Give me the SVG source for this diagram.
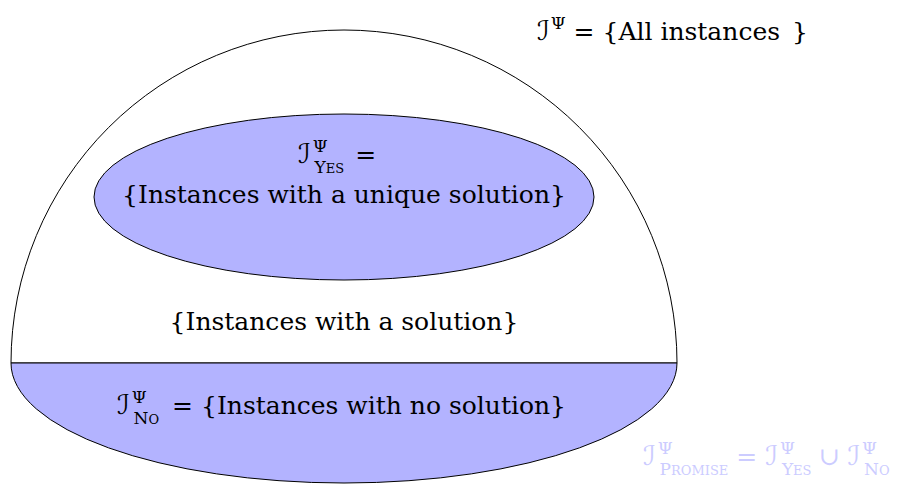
<svg xmlns="http://www.w3.org/2000/svg" width="921" height="484" viewBox="0 0 921 484">
<style>
text{font-family:"DejaVu Serif","Liberation Serif",serif;font-size:25px;fill:#000}
.cal{font-family:"DejaVu Serif","DejaVu Sans",serif;font-style:italic;font-size:27px}
.sup{font-size:17px}
.sub{font-size:17px}
.sc{font-size:13px}
text.promise{fill:#ccccff}
.shape{stroke:#000;stroke-width:1}
</style>
<rect width="921" height="484" fill="#fff"/>
<g id="all-instances">
<path class="shape" d="M11,363 A333,333 0 0 1 677,363 Z" fill="#fff"/>
<text x="537" y="40"><tspan class="cal">ℐ</tspan><tspan class="sup" dx="1" dy="-11">Ψ</tspan><tspan dx="8" dy="11">= {All instances </tspan><tspan dx="4">}</tspan></text>
</g>
<g id="no-region">
<path class="shape" d="M11,363 L677,363 A333,120 0 0 1 11,363 Z" fill="#b3b3ff"/>
<text x="117" y="414"><tspan class="cal">ℐ</tspan><tspan class="sup" dx="2" dy="-11">Ψ</tspan><tspan class="sub" dx="-13" dy="21">N</tspan><tspan class="sc">O</tspan><tspan dx="5" dy="-10"> = {Instances with no solution}</tspan></text>
</g>
<g id="yes-region">
<ellipse class="shape" cx="344" cy="197" rx="250" ry="83" fill="#b3b3ff"/>
<text x="298" y="163"><tspan class="cal">ℐ</tspan><tspan class="sup" dx="2" dy="-11">Ψ</tspan><tspan class="sub" dx="-13" dy="21">Y</tspan><tspan class="sc">ES</tspan><tspan dx="3" dy="-10"> =</tspan></text>
<text x="344" y="203" text-anchor="middle">{Instances with a unique solution}</text>
</g>
<g id="solution-label">
<text x="344" y="330" text-anchor="middle">{Instances with a solution}</text>
</g>
<g id="promise">
<text class="promise" x="643" y="465"><tspan class="cal">ℐ</tspan><tspan class="sup" dx="2" dy="-11">Ψ</tspan><tspan class="sub" dx="-13" dy="21">P</tspan><tspan class="sc">ROMISE</tspan><tspan dx="8" dy="-10">= </tspan><tspan class="cal">ℐ</tspan><tspan class="sup" dx="2" dy="-11">Ψ</tspan><tspan class="sub" dx="-13" dy="21">Y</tspan><tspan class="sc">ES</tspan><tspan dx="7" dy="-10">∪ </tspan><tspan class="cal">ℐ</tspan><tspan class="sup" dx="2" dy="-11">Ψ</tspan><tspan class="sub" dx="-13" dy="21">N</tspan><tspan class="sc">O</tspan></text>
</g>
<g id="connectors"></g>
</svg>
